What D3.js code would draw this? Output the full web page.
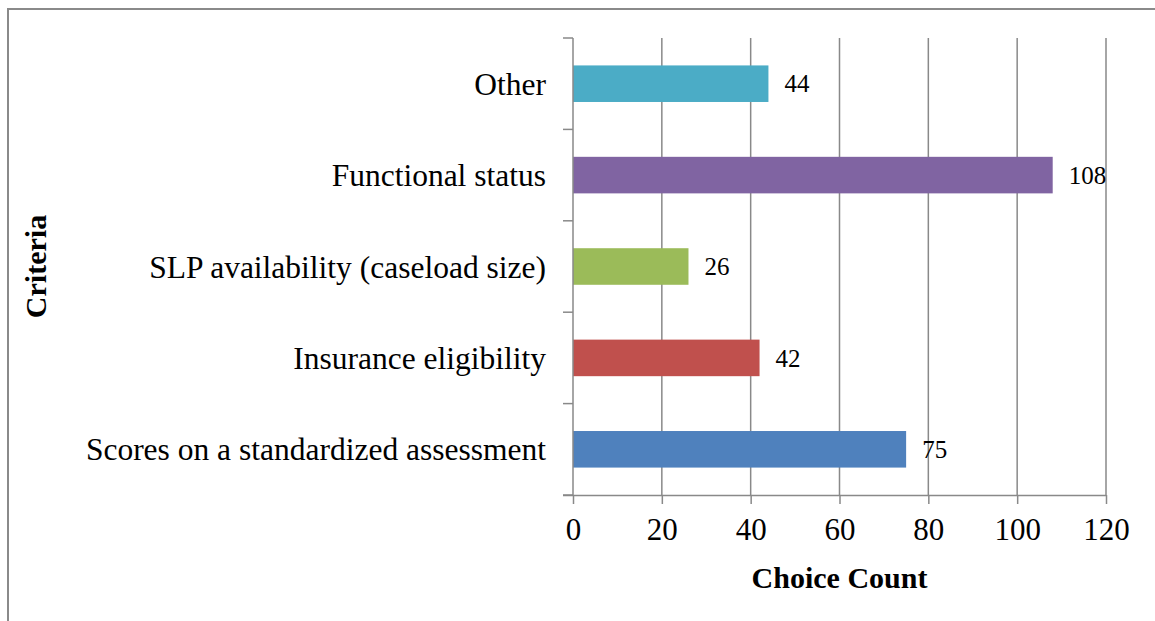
<!DOCTYPE html>
<html>
<head>
<meta charset="utf-8">
<script src="https://cdn.jsdelivr.net/npm/d3@7"></script>
<style>
  html, body { margin: 0; padding: 0; background: #fff; }
  svg { display: block; }
  text { font-family: "Liberation Serif", "DejaVu Serif", serif; fill: #000; }
</style>
</head>
<body>
<svg id="chart" width="1155" height="621"></svg>
<script>
// Criteria used to decide on service, with how many respondents chose each
const categories = [
  "Scores on a standardized assessment",
  "Insurance eligibility",
  "SLP availability (caseload size)",
  "Functional status",
  "Other"
];
const counts = [75, 42, 26, 108, 44];
const barColors = ["#4F81BD", "#C0504D", "#9BBB59", "#8064A2", "#4BACC6"];
const xTicks = [0, 20, 40, 60, 80, 100, 120];
const xTitle = "Choice Count";
const yTitle = "Criteria";

const svg = d3.select("#chart");
const W = 1155, H = 621;
const margin = { top: 38, right: 49, bottom: 126, left: 573 };
const plotW = W - margin.left - margin.right;
const plotH = H - margin.top - margin.bottom;
const gridColor = "#898989";

// outer frame
svg.append("rect")
  .attr("x", 8).attr("y", 9)
  .attr("width", W + 20).attr("height", H + 20)
  .attr("fill", "none").attr("stroke", "#8a8a8a").attr("stroke-width", 2);

const g = svg.append("g").attr("transform", `translate(${margin.left},${margin.top})`);

const x = d3.scaleLinear().domain([0, 120]).range([0, plotW]);
// first category at the bottom
const y = d3.scaleBand().domain(categories.slice().reverse()).range([0, plotH]).paddingInner(0.6).paddingOuter(0.3);

// vertical gridlines
g.append("g").selectAll("line")
  .data(xTicks.filter(d => d > 0))
  .join("line")
  .attr("x1", d => x(d)).attr("x2", d => x(d))
  .attr("y1", 0).attr("y2", plotH)
  .attr("stroke", gridColor).attr("stroke-width", 1.5);

// bars
g.append("g").selectAll("rect")
  .data(categories)
  .join("rect")
  .attr("x", x(0))
  .attr("y", d => y(d))
  .attr("width", (d, i) => x(counts[i]) - x(0))
  .attr("height", y.bandwidth())
  .attr("fill", (d, i) => barColors[i]);

// value labels
g.append("g").selectAll("text")
  .data(categories)
  .join("text")
  .attr("x", (d, i) => x(counts[i]) + 16)
  .attr("y", d => y(d) + y.bandwidth() / 2)
  .attr("dy", "0.35em")
  .attr("font-size", 25)
  .text((d, i) => counts[i]);

// x axis
const xAxis = g.append("g")
  .attr("transform", `translate(0,${plotH})`)
  .call(d3.axisBottom(x).tickValues(xTicks).tickSize(9).tickPadding(14).tickSizeOuter(0));
xAxis.select(".domain").attr("stroke", gridColor).attr("stroke-width", 1.5)
  .attr("d", `M-10,0.5H${plotW}`);
xAxis.selectAll(".tick line").attr("stroke", gridColor).attr("stroke-width", 1.5);
xAxis.selectAll(".tick text")
  .attr("font-family", "Liberation Serif, serif")
  .attr("font-size", 31).attr("fill", "#000");

// y axis: tick marks at band boundaries
const yAxisG = g.append("g");
yAxisG.append("line")
  .attr("x1", 0).attr("x2", 0).attr("y1", 0).attr("y2", plotH)
  .attr("stroke", gridColor).attr("stroke-width", 1.5);
const step = plotH / categories.length;
yAxisG.selectAll("line.tk")
  .data(d3.range(categories.length + 1))
  .join("line")
  .attr("class", "tk")
  .attr("x1", -10).attr("x2", 0)
  .attr("y1", d => d * step).attr("y2", d => d * step)
  .attr("stroke", gridColor).attr("stroke-width", 1.5);

// category labels
yAxisG.selectAll("text")
  .data(categories)
  .join("text")
  .attr("x", -27)
  .attr("y", d => y(d) + y.bandwidth() / 2)
  .attr("dy", "0.35em")
  .attr("text-anchor", "end")
  .attr("font-size", 31.5)
  .text(d => d);

// axis titles
svg.append("text")
  .attr("x", margin.left + plotW / 2)
  .attr("y", 577)
  .attr("dy", "0.35em")
  .attr("text-anchor", "middle")
  .attr("font-weight", "bold")
  .attr("font-size", 30)
  .text(xTitle);

svg.append("text")
  .attr("transform", `translate(35,${margin.top + plotH / 2}) rotate(-90)`)
  .attr("dy", "0.35em")
  .attr("text-anchor", "middle")
  .attr("font-weight", "bold")
  .attr("font-size", 30)
  .text(yTitle);
</script>
</body>
</html>
